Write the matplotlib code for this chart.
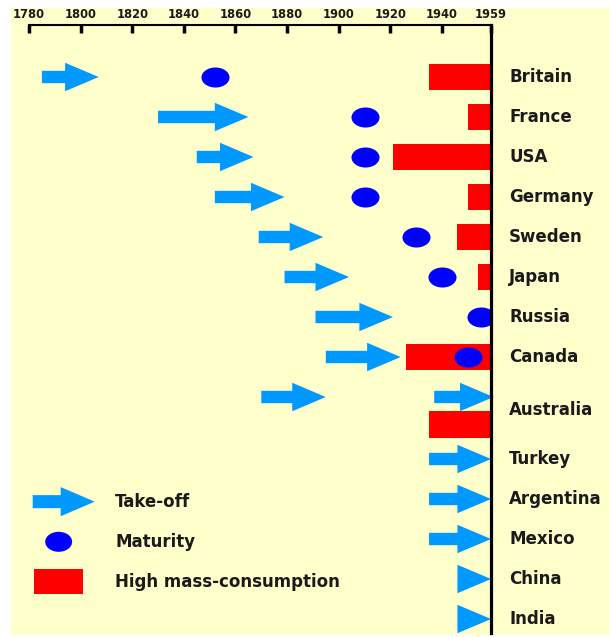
import matplotlib
matplotlib.use("Agg")
import matplotlib.pyplot as plt
import matplotlib.patches as mpatches
from matplotlib.legend_handler import HandlerPatch
from matplotlib.path import Path
from matplotlib.transforms import Affine2D
import numpy as np

# Rostow's stages of growth, years
countries = ["Britain", "France", "USA", "Germany", "Sweden", "Japan", "Russia",
             "Canada", "Australia", "Turkey", "Argentina", "Mexico", "China", "India"]

# take-off periods (start, end), Australia has two of them
takeoff = [
    [(1785, 1807)],
    [(1830, 1865)],
    [(1845, 1867)],
    [(1852, 1879)],
    [(1869, 1894)],
    [(1879, 1904)],
    [(1891, 1921)],
    [(1895, 1924)],
    [(1870, 1895), (1937, 1960)],
    [(1935, 1959)],
    [(1935, 1959)],
    [(1935, 1959)],
    [(1946, 1959)],
    [(1946, 1959)],
]
maturity = [1852, 1910, 1910, 1910, 1930, 1940, 1955, 1950,
            None, None, None, None, None, None]
mass_consumption = [1935, 1950, 1921, 1950, 1946, 1954, None, 1926,
                    1935, None, None, None, None, None]

ticks = [1780, 1800, 1820, 1840, 1860, 1880, 1900, 1920, 1940, 1959]
end_year = 1959

arrow_col = "#0099FF"
dot_col = "#0000FF"
bar_col = "#FF0000"
text_col = "#1a1a1a"

# row layout: Australia gets a taller slot (arrows above, bar below)
rows = np.arange(len(countries), dtype=float)
aus = countries.index("Australia")
rows[aus] += 0.33
rows[aus + 1:] += 0.55

fig = plt.figure(figsize=(6.09, 6.37), dpi=100)
fig.patches.append(mpatches.Rectangle((11 / 609, 2 / 637), 598 / 609, 627 / 637,
                                      transform=fig.transFigure, facecolor="#FFFFCC",
                                      edgecolor="none", zorder=-10))

ax = fig.add_axes([29 / 609, 4 / 637, 462 / 609, 608 / 637])
ax.set_facecolor("none")
ax.set_xlim(ticks[0], end_year)
ax.set_ylim(13.9, -1.3)

for s in ["left", "bottom"]:
    ax.spines[s].set_visible(False)
ax.spines["top"].set_linewidth(1.5)
ax.spines["right"].set_linewidth(2.3)
ax.spines["right"].set_zorder(5)

ax.xaxis.tick_top()
ax.set_xticks(ticks)
ax.set_xticklabels([str(t) for t in ticks], fontsize=8.3, fontweight="bold",
                   color=text_col)
ax.tick_params(axis="x", direction="in", length=6, width=2.5, pad=3)
ax.set_yticks([])

# ellipse marker for the maturity dots
ell = Path.unit_circle().transformed(Affine2D().scale(1.4, 1.0))

for i, name in enumerate(countries):
    y = rows[i]
    ya = y - 0.33 if i == aus else y
    yb = y + 0.35 if i == aus else y
    for start, end in takeoff[i]:
        length = end - start
        ax.add_patch(mpatches.FancyArrow(start, ya, length, 0, width=0.31,
                                         head_width=0.71, head_length=min(13, length),
                                         length_includes_head=True, color=arrow_col,
                                         lw=0, clip_on=False, zorder=2))
    if mass_consumption[i] is not None:
        ax.barh(yb, end_year - mass_consumption[i], left=mass_consumption[i],
                height=0.67, color=bar_col, zorder=2)
    if maturity[i] is not None:
        ax.scatter([maturity[i]], [y], marker=ell, s=408, color=dot_col,
                   linewidths=0, zorder=3)
    ax.annotate(name, xy=(end_year, y), xytext=(13, 0), textcoords="offset points",
                va="center", ha="left", fontsize=12, fontweight="bold",
                color=text_col, annotation_clip=False)


# legend keys
def arrow_key(legend, orig_handle, xdescent, ydescent, width, height, fontsize):
    y = height / 2 - ydescent
    return mpatches.FancyArrow(-xdescent, y, width, 0, width=9.4, head_width=21,
                               head_length=24.5, length_includes_head=True)


def dot_key(legend, orig_handle, xdescent, ydescent, width, height, fontsize):
    y = height / 2 - ydescent
    return mpatches.Ellipse((-xdescent + 18.7, y), 19.4, 14.4)


def bar_key(legend, orig_handle, xdescent, ydescent, width, height, fontsize):
    y = height / 2 - ydescent
    return mpatches.Rectangle((-xdescent + 1, y - 9), 35.3, 18)


h_arrow = mpatches.FancyArrow(0, 0, 1, 0, color=arrow_col, lw=0)
h_dot = mpatches.Ellipse((0, 0), 1, 1, color=dot_col, lw=0)
h_bar = mpatches.Rectangle((0, 0), 1, 1, color=bar_col, lw=0)

leg = ax.legend([h_arrow, h_dot, h_bar], ["Take-off", "Maturity", "High mass-consumption"],
                handler_map={h_arrow: HandlerPatch(patch_func=arrow_key),
                             h_dot: HandlerPatch(patch_func=dot_key),
                             h_bar: HandlerPatch(patch_func=bar_key)},
                loc="center left", bbox_to_anchor=(0.008, 0.150), borderaxespad=0,
                borderpad=0, frameon=False, handlelength=3.72, handleheight=1.82,
                handletextpad=1.22, labelspacing=0.98,
                prop={"size": 12, "weight": "bold"})
for t in leg.get_texts():
    t.set_color(text_col)

fig.savefig("out.png", dpi=100)
